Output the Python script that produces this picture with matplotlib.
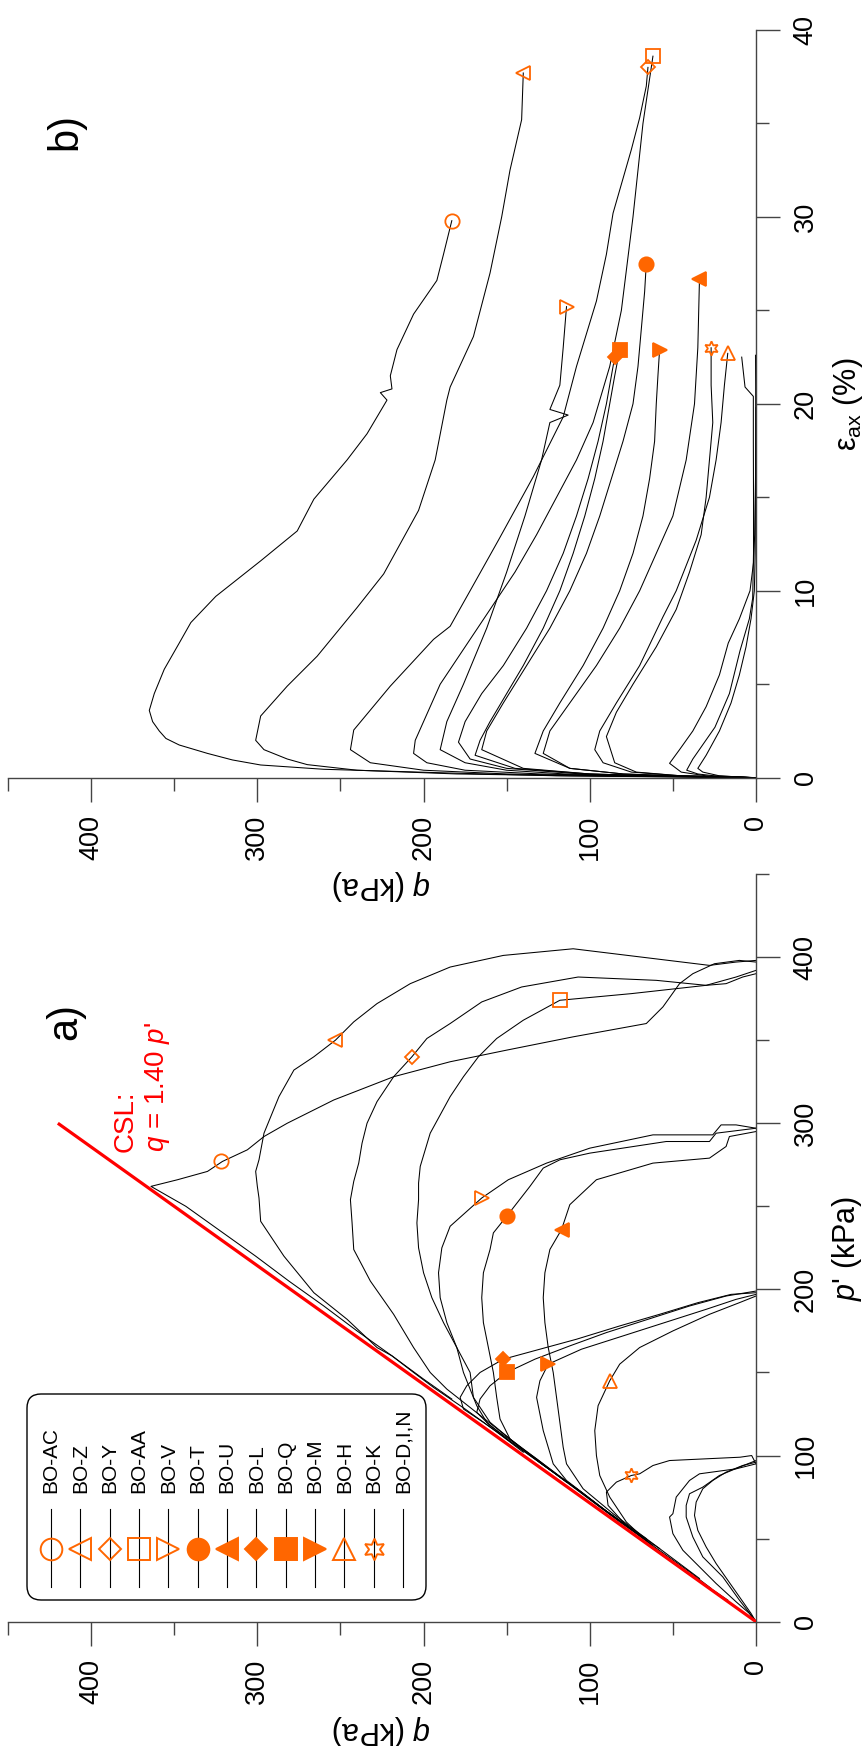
import numpy as np
import matplotlib.pyplot as plt
from matplotlib.lines import Line2D
from matplotlib.patches import FancyBboxPatch
from matplotlib.transforms import Affine2D

plt.rcParams['font.family'] = ['Liberation Sans', 'DejaVu Sans']
plt.rcParams['mathtext.fontset'] = 'custom'
plt.rcParams['mathtext.rm'] = 'Liberation Sans'
plt.rcParams['mathtext.it'] = 'Liberation Sans:italic'

# ---- data: stress paths p' - q (kPa) ----
AC_p = [397, 398, 396, 390, 384, 370, 360, 352, 344, 337, 328, 314, 300, 292, 284, 277, 271, 266, 262, 250, 235, 220, 205, 190, 175, 160, 146, 134]
AC_q = [0, 10, 25, 38, 46, 56, 66, 110, 150, 184, 218, 254, 282, 296, 306, 321, 330, 348, 364, 343, 322, 301, 281, 260, 240, 219, 200, 183]
Z_p = [398, 397, 395, 405, 401, 394, 384, 372, 361, 350, 340, 332, 316, 294, 278, 271, 262, 255, 241, 220, 198, 182, 165, 160, 150, 141, 128, 115, 102]
Z_q = [0, 12, 28, 110, 152, 184, 208, 228, 242, 253, 266, 278, 287, 296, 299, 301, 300, 299, 298, 284, 266, 246, 228, 219, 206, 194, 175, 157, 140]
Y_p = [390, 388, 384, 383, 386, 388, 382, 373, 360, 351, 340, 328, 313, 300, 288, 276, 265, 254, 240, 224, 205, 185, 165, 150, 140, 125, 110, 95, 80, 65, 48]
Y_q = [0, 8, 18, 30, 60, 107, 141, 165, 184, 198, 207, 218, 228, 234, 237, 239, 242, 244, 243, 242, 232, 218, 206, 196, 186, 167, 148, 128, 108, 88, 65]
AA_p = [392, 388, 383, 378, 374, 362, 351, 340, 328, 316, 305, 294, 284, 274, 264, 254, 240, 225, 210, 195, 180, 165, 150, 135, 120, 105, 90, 75, 60, 46]
AA_q = [0, 12, 30, 75, 118, 140, 156, 167, 176, 184, 190, 196, 199, 202, 203, 203, 204, 203, 200, 195, 188, 180, 172, 170, 160, 142, 122, 102, 82, 62]
V_p = [297, 299, 299, 293, 293, 285, 276, 266, 255, 238, 225, 210, 195, 180, 165, 150, 140, 130, 120, 110, 100, 90, 84]
V_q = [0, 12, 21, 26, 62, 100, 126, 149, 165, 184, 189, 191, 190, 186, 180, 176, 172, 168, 162, 150, 136, 122, 114]
T_p = [297, 294, 289, 289, 282, 278, 273, 262, 244, 234, 224, 210, 195, 180, 165, 150, 135, 122, 110, 95, 80, 65, 50]
T_q = [0, 24, 28, 54, 100, 118, 128, 136, 150, 158, 160, 164, 165, 164, 161, 158, 156, 154, 148, 129, 108, 88, 66]
U_p = [295, 292, 286, 279, 276, 266, 251, 236, 224, 210, 195, 180, 165, 150, 135, 120, 105, 95, 80, 65, 50, 38, 26]
U_q = [0, 16, 18, 28, 62, 96, 112, 117, 124, 127, 128, 127, 125, 122, 120, 118, 116, 114, 104, 86, 66, 50, 34]
L_p = [198, 197, 192, 185, 178, 170, 164, 158, 150, 142, 135, 128, 120, 110, 100, 90, 80, 70, 63]
L_q = [0, 15, 35, 58, 82, 108, 130, 152, 166, 174, 178, 176, 164, 150, 136, 122, 108, 95, 85]
Q_p = [199, 196, 190, 182, 174, 166, 158, 150, 142, 134, 126, 118, 108, 98, 88, 78, 68, 61]
Q_q = [0, 18, 40, 65, 90, 112, 133, 150, 160, 166, 168, 160, 146, 132, 119, 105, 92, 82]
M_p = [197, 194, 188, 180, 172, 164, 155, 145, 135, 125, 115, 105, 95, 85, 75, 65, 55, 44]
M_q = [0, 12, 30, 55, 80, 105, 125, 130, 132, 130, 128, 125, 122, 114, 101, 88, 74, 58]
H_p = [196, 192, 185, 175, 165, 155, 145, 130, 115, 100, 88, 75, 60, 45, 30, 13]
H_q = [0, 10, 28, 50, 70, 82, 88, 95, 97, 96, 94, 88, 78, 62, 42, 17]
K_p = [95, 100, 99, 97, 94, 89, 88, 84, 78, 70, 60, 50, 40, 30, 20]
K_q = [0, 2.6, 9.6, 52, 62, 70, 75, 84, 90, 89, 80, 68, 54, 40, 27]
D_p = [95, 92, 89, 85, 75, 65, 63, 53, 43, 35, 23, 12, 5, 0]
D_q = [0, 12, 34, 40, 48, 50, 52, 50, 44, 36, 24, 12, 4, 0]
I_p = [97, 93, 88, 81, 77, 70, 63, 51, 39, 27, 13, 4, 0]
I_q = [0, 10, 22, 32, 40, 42, 42, 38, 32, 20, 10, 3, 0]
N_p = [96, 94, 90, 85, 80, 72, 64, 55, 45, 35, 25, 15, 5, 0]
N_q = [0, 8, 18, 26, 32, 36, 37, 35, 30, 24, 17, 10, 3, 0]

# marker positions in the p'-q plot
mark_p = [277, 350, 340, 374, 255, 244, 236, 158, 150, 155, 145, 88]
mark_q = [322, 253, 207, 118, 165, 150, 117, 152, 150, 125, 88, 75]

# ---- data: axial strain (%) - q (kPa) ----
AC_e = [0, 0.05, 0.1, 0.25, 0.45, 0.68, 0.95, 1.3, 1.75, 2.1, 2.5, 3.0, 3.6, 4.5, 5.8, 7.2, 8.3, 9.7, 11.6, 13.2, 14.9, 17.0, 18.4, 20.2, 20.6, 20.8, 21.5, 22.9, 24.8, 26.6, 28.0, 29.8]
AC_s = [0, 60, 120, 184, 260, 298, 315, 330, 347, 355, 359, 363, 365, 362, 356, 347, 340, 325, 298, 276, 266, 246, 234, 222, 226, 219, 220, 216, 206, 192, 188, 183]
Z_e = [0, 0.05, 0.1, 0.2, 0.4, 0.7, 1.0, 1.5, 2.0, 3.3, 4.9, 6.5, 9.1, 10.9, 14.3, 17.0, 20.2, 20.9, 23.6, 27.0, 30.0, 32.5, 35.2, 37.7]
Z_s = [0, 50, 110, 180, 240, 270, 282, 296, 301, 298, 282, 264, 240, 224, 203, 193, 186, 184, 170, 160, 153, 148, 141, 140]
Y_e = [0, 0.05, 0.1, 0.2, 0.4, 0.8, 1.5, 2.55, 4.9, 7.4, 8.1, 10, 12.7, 16.1, 19.3, 22, 25.5, 28, 30.2, 33.6, 35.3, 37, 38]
Y_s = [0, 40, 90, 150, 200, 232, 244, 242, 220, 194, 184, 172, 155, 134, 116, 108, 96, 90, 86, 75, 70, 66, 65]
AA_e = [0, 0.05, 0.1, 0.2, 0.4, 0.8, 1.3, 2, 3, 5, 7, 9, 11, 13, 15, 17, 19, 22, 25, 30, 35, 38.6]
AA_s = [0, 35, 80, 130, 175, 198, 206, 205, 200, 190, 175, 160, 145, 132, 120, 108, 98, 88, 81, 74, 68, 62]
V_e = [0, 0.05, 0.1, 0.2, 0.4, 0.8, 1.5, 3, 5, 8, 11, 14, 17, 19.0, 19.4, 19.7, 21, 23, 25.2]
V_s = [0, 30, 70, 115, 150, 175, 190, 186, 176, 162, 150, 139, 129, 124, 113, 124, 118, 116, 114]
T_e = [0, 0.05, 0.1, 0.2, 0.5, 1.5, 2.5, 4, 6, 8, 10, 12, 14, 16, 18, 20, 22, 24, 26, 27.5]
T_s = [0, 28, 60, 100, 140, 165, 162, 152, 138, 124, 112, 102, 94, 87, 80, 74, 71, 69, 67, 66]
U_e = [0, 0.05, 0.1, 0.2, 0.5, 1.3, 2.5, 4, 6, 8, 10, 12, 14, 17, 20, 23, 26.7]
U_s = [0, 22, 48, 80, 112, 128, 124, 112, 96, 82, 70, 60, 50, 42, 37, 35, 34]
L_e = [0, 0.05, 0.1, 0.2, 0.5, 1.0, 1.9, 3, 4.5, 6, 8, 10, 12, 14, 16, 18, 20, 21.5, 22.5]
L_s = [0, 30, 65, 105, 150, 172, 179, 175, 165, 152, 138, 126, 116, 108, 101, 95, 90, 87, 85]
Q_e = [0, 0.05, 0.1, 0.2, 0.5, 1.2, 2, 3, 4.5, 6, 8, 10, 12, 14, 16, 18, 20, 21.5, 22.9]
Q_s = [0, 28, 60, 100, 145, 169, 166, 160, 150, 140, 128, 118, 110, 103, 97, 92, 88, 85, 82]
M_e = [0, 0.05, 0.1, 0.2, 0.5, 1.3, 2.5, 4, 6, 8, 10, 12, 14, 16, 18, 20, 21.5, 22.9]
M_s = [0, 22, 48, 80, 112, 133, 128, 118, 104, 92, 82, 74, 68, 64, 61, 60, 59, 58]
H_e = [0, 0.05, 0.1, 0.3, 0.8, 1.5, 2.5, 4, 6, 8.6, 10, 12.7, 15, 17, 19, 21, 22.7]
H_s = [0, 20, 45, 75, 92, 97, 94, 84, 70, 56, 48, 36, 28, 24, 21, 19, 17]
K_e = [0, 0.05, 0.1, 0.3, 0.8, 2.2, 3.5, 5, 7, 9, 11, 13, 15, 17, 19, 21, 23]
K_s = [0, 20, 45, 72, 85, 90, 84, 74, 60, 48, 40, 33, 30, 28, 26, 27, 27]
D_e = [0, 0.05, 0.1, 0.3, 0.77, 1.5, 2.5, 3.8, 5.5, 7.2, 8.5, 10, 11.5, 13, 16, 19.8]
D_s = [0, 15, 30, 45, 52, 46, 38, 30, 22, 16.7, 10, 3.6, 1.5, 0.8, 0.3, 0]
I_e = [0, 0.05, 0.1, 0.2, 0.4, 1.0, 2.7, 4.5, 6.8, 8.5, 9.6, 12, 15, 18, 20.4, 20.9, 22.5]
I_s = [0, 12, 25, 35, 41.7, 38, 24.7, 16, 9.6, 4, 2, 1.5, 1.5, 1.6, 1.6, 6.6, 8.6]
N_e = [0, 0.05, 0.1, 0.3, 0.5, 1.2, 2.5, 4, 5.5, 7, 8.5, 10, 12, 15, 18, 21, 22.6]
N_s = [0, 12, 22, 32, 35, 30, 22, 15, 10, 6, 3, 1, 0.5, 0.3, 0.2, 0.2, 0.3]

names = ['BO-AC', 'BO-Z', 'BO-Y', 'BO-AA', 'BO-V', 'BO-T', 'BO-U', 'BO-L', 'BO-Q', 'BO-M', 'BO-H', 'BO-K', 'BO-D,I,N']
paths_pq = [(AC_p, AC_q), (Z_p, Z_q), (Y_p, Y_q), (AA_p, AA_q), (V_p, V_q), (T_p, T_q), (U_p, U_q),
            (L_p, L_q), (Q_p, Q_q), (M_p, M_q), (H_p, H_q), (K_p, K_q), (D_p, D_q), (I_p, I_q), (N_p, N_q)]
paths_eq = [(AC_e, AC_s), (Z_e, Z_s), (Y_e, Y_s), (AA_e, AA_s), (V_e, V_s), (T_e, T_s), (U_e, U_s),
            (L_e, L_s), (Q_e, Q_s), (M_e, M_s), (H_e, H_s), (K_e, K_s), (D_e, D_s), (I_e, I_s), (N_e, N_s)]

orange = '#ff6600'
axc = '#444444'
# marker style for each named test (last entry has no marker)
mstyle = [('o', False, 1.0), ('<', False, 1.0), ('D', False, 0.7), ('s', False, 1.0), ('>', False, 1.0),
          ('o', True, 1.0), ('<', True, 1.0), ('D', True, 0.7), ('s', True, 1.0), ('>', True, 1.0),
          ('^', False, 1.0), ((6, 1, 0), False, 1.0)]

W, H = 865, 1746
fig = plt.figure(figsize=(W / 100, H / 100), dpi=100)
px = Affine2D().scale(1 / W, -1 / H).translate(0, 1) + fig.transFigure


def box(x0, y0, x1, y1):
    return [x0 / W, 1 - y1 / H, (x1 - x0) / W, (y1 - y0) / H]


ax_a = fig.add_axes(box(8, 874, 756, 1621.7))
ax_b = fig.add_axes(box(8, 30, 756, 777.7))


def style(ax, ymax, ymaj, ymin):
    ax.set_xlim(450, 0)
    ax.set_ylim(0, ymax)
    for s in ['top', 'left']:
        ax.spines[s].set_visible(False)
    for s in ['bottom', 'right']:
        ax.spines[s].set_color(axc)
        ax.spines[s].set_linewidth(1.0)
    ax.yaxis.tick_right()
    ax.set_xticks([0, 100, 200, 300, 400])
    ax.set_xticks([50, 150, 250, 350, 450], minor=True)
    ax.set_yticks(ymaj)
    ax.set_yticks(ymin, minor=True)
    ax.tick_params(which='major', length=17.5, width=1.0, color=axc, labelsize=19.5)
    ax.tick_params(which='minor', length=9, width=1.0, color=axc)
    ax.tick_params(axis='x', pad=9.5, labelrotation=90)
    ax.tick_params(axis='y', pad=9, labelrotation=90)
    for lbl in ax.get_yticklabels():
        lbl.set_va('center')
    ax.patch.set_visible(False)


style(ax_a, 450, [0, 100, 200, 300, 400], [50, 150, 250, 350, 450])
style(ax_b, 40, [0, 10, 20, 30, 40], [5, 15, 25, 35])

# stress paths
for p, q in paths_pq:
    ax_a.plot(q, p, color='black', lw=0.75, zorder=2)
ax_a.plot([0, 1.40 * 300], [0, 300], color='red', lw=2.3, zorder=3, solid_capstyle='butt')
for i in range(len(mark_p)):
    m, filled, sc = mstyle[i]
    ax_a.plot(mark_q[i], mark_p[i], marker=m, ms=10.3 * sc, mew=1.3, color=orange,
              fillstyle='full' if filled else 'none', zorder=4)

# strain curves
for e, s in paths_eq:
    ax_b.plot(s, e, color='black', lw=0.75, zorder=2)
for i in range(len(mstyle)):
    m, filled, sc = mstyle[i]
    e, s = paths_eq[i]
    ax_b.plot(s[-1], e[-1], marker=m, ms=10.3 * sc, mew=1.3, color=orange,
              fillstyle='full' if filled else 'none', zorder=4, clip_on=False)

# axis labels
fig.text(382, 1730, '$q$ (kPa)', transform=px, rotation=180, ha='center', va='center', fontsize=22)
fig.text(382, 885, '$q$ (kPa)', transform=px, rotation=180, ha='center', va='center', fontsize=22)
fig.text(847, 1248, "$p$' (kPa)", transform=px, rotation=90, ha='center', va='center', fontsize=22)
fig.text(848, 404, 'ε$_\\mathrm{ax}$ (%)', transform=px, rotation=90, ha='center', va='center', fontsize=22)
fig.text(65, 1022, 'a)', transform=px, rotation=90, ha='center', va='center', fontsize=30)
fig.text(65, 131, 'b)', transform=px, rotation=90, ha='center', va='center', fontsize=30)
fig.text(126, 1152, 'CSL:', transform=px, rotation=90, ha='center', va='bottom', fontsize=20, color='red')
fig.text(157, 1152, "$q$ = 1.40 $p$'", transform=px, rotation=90, ha='center', va='bottom', fontsize=20, color='red')

# legend
fig.add_artist(FancyBboxPatch((27, 1394), 399, 206, boxstyle='round,pad=0,rounding_size=14',
                              transform=px, fc='white', ec='black', lw=1.0))
for i, name in enumerate(names):
    x = 51 + 29.33 * i
    fig.add_artist(Line2D([x, x], [1509, 1587], transform=px, color='black', lw=0.8))
    if i < len(mstyle):
        m, filled, sc = mstyle[i]
        fig.add_artist(Line2D([x], [1549], transform=px, marker=m, ms=15.6 * sc, mew=1.4, color=orange,
                              fillstyle='full' if filled else 'none'))
    fig.text(x, 1493, name, transform=px, rotation=90, ha='center', va='bottom', fontsize=15)

fig.savefig('out.png', dpi=100)
